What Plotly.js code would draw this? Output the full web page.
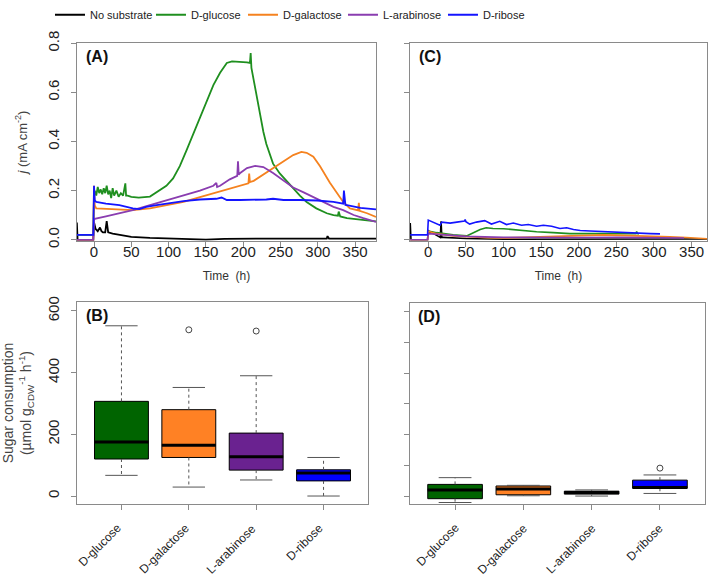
<!DOCTYPE html>
<html>
<head>
<meta charset="utf-8">
<script src="https://cdn.plot.ly/plotly-3.0.1.min.js"></script>
<style>html,body{margin:0;padding:0;background:#fff;}#chart{width:709px;height:579px;}</style>
</head>
<body>
<div id="chart"></div>
<script>
// ---------- Panel A: current density vs time (glucose-grown cells) ----------
const seriesNames = ['No substrate', 'D-glucose', 'D-galactose', 'L-arabinose', 'D-ribose'];

const tBlackA = [-23, -22.5, -22, -1, 0, 2, 5, 8, 10, 12, 15, 17, 19, 25, 35, 50, 75, 100, 125, 150, 175, 200, 250, 300, 312, 313, 315, 350, 378];
const jBlackA = [0.07, 0.02, 0.0, 0.0, 0.072, 0.045, 0.035, 0.05, 0.035, 0.03, 0.03, 0.076, 0.03, 0.025, 0.02, 0.012, 0.008, 0.005, 0.003, 0.001, 0.004, 0.005, 0.005, 0.005, 0.005, 0.015, 0.005, 0.005, 0.005];

const tGreenA = [-23, -1, 0, 1, 3, 5, 7, 9, 11, 13, 15, 17, 19, 21, 23, 25, 27, 30, 33, 36, 39, 42, 43, 45, 50, 60, 75, 88, 97, 106, 115, 124, 133, 142, 151, 160, 169, 178, 185, 195, 205, 209, 210, 211, 213, 216, 220, 224, 227, 231, 235, 240, 249, 258, 267, 276, 285, 298, 312, 321, 327, 328, 330, 339, 357, 378];
const jGreenA = [0.02, 0.02, 0.18, 0.2, 0.18, 0.215, 0.19, 0.205, 0.185, 0.21, 0.19, 0.22, 0.185, 0.2, 0.17, 0.21, 0.18, 0.2, 0.175, 0.19, 0.18, 0.23, 0.18, 0.18, 0.175, 0.172, 0.176, 0.2, 0.22, 0.25, 0.3, 0.364, 0.43, 0.496, 0.565, 0.63, 0.68, 0.72, 0.726, 0.725, 0.722, 0.72, 0.76, 0.70, 0.667, 0.61, 0.55, 0.49, 0.44, 0.39, 0.35, 0.31, 0.27, 0.24, 0.207, 0.18, 0.154, 0.128, 0.108, 0.10, 0.098, 0.115, 0.095, 0.088, 0.082, 0.075];

const tOrangeA = [-23, -1, 0, 1, 3, 30, 52, 75, 97, 120, 142, 164, 187, 205, 207, 208, 209, 214, 227, 240, 254, 267, 278, 285, 294, 303, 316, 325, 334, 343, 352, 354, 355, 356, 366, 378];
const jOrangeA = [0.0, 0.0, 0.22, 0.14, 0.128, 0.125, 0.121, 0.128, 0.141, 0.154, 0.174, 0.193, 0.213, 0.226, 0.23, 0.27, 0.235, 0.24, 0.266, 0.292, 0.318, 0.345, 0.358, 0.354, 0.338, 0.299, 0.233, 0.193, 0.154, 0.128, 0.121, 0.12, 0.15, 0.118, 0.108, 0.093];

const tPurpleA = [-23, -1, 0, 1, 16, 34, 52, 75, 97, 120, 142, 160, 164, 165, 169, 182, 191, 192, 193, 194, 196, 205, 216, 227, 240, 254, 267, 281, 294, 307, 321, 334, 348, 361, 378];
const jPurpleA = [0.0, 0.0, 0.08, 0.085, 0.095, 0.108, 0.121, 0.141, 0.16, 0.18, 0.2, 0.22, 0.232, 0.215, 0.22, 0.246, 0.259, 0.26, 0.32, 0.265, 0.272, 0.292, 0.301, 0.296, 0.272, 0.24, 0.213, 0.193, 0.174, 0.154, 0.134, 0.121, 0.101, 0.088, 0.073];

const tBlueA = [-23, -1, 0, 1, 3, 16, 34, 52, 61, 70, 84, 97, 120, 142, 164, 171, 178, 196, 214, 231, 240, 254, 276, 299, 321, 334, 335, 336, 337, 339, 357, 378];
const jBlueA = [0.02, 0.02, 0.22, 0.16, 0.154, 0.147, 0.141, 0.128, 0.125, 0.134, 0.141, 0.147, 0.157, 0.164, 0.167, 0.172, 0.162, 0.162, 0.162, 0.164, 0.167, 0.162, 0.162, 0.16, 0.154, 0.147, 0.2, 0.145, 0.142, 0.141, 0.13, 0.124];

// ---------- Panel C: current density vs time (other condition) ----------
const tBlackC = [-24, -23.5, -23, -1, 0, 1, 5, 10, 16, 17, 18, 20, 50, 100, 200, 300, 372];
const jBlackC = [0.068, 0.02, 0.0, 0.0, 0.04, 0.03, 0.03, 0.02, 0.01, 0.075, 0.01, 0.01, 0.005, 0.002, 0.003, 0.004, 0.003];

const tGreenC = [0, 11, 33, 51, 60, 69, 77, 86, 100, 122, 144, 166, 188, 210, 233, 255, 276, 277, 278, 280];
const jGreenC = [0.036, 0.029, 0.02, 0.016, 0.029, 0.042, 0.049, 0.046, 0.045, 0.038, 0.033, 0.029, 0.025, 0.025, 0.025, 0.024, 0.025, 0.034, 0.025, 0.024];

const tOrangeC = [-24, -1, 0, 11, 33, 55, 78, 100, 122, 144, 166, 188, 210, 233, 255, 277, 299, 321, 343, 365, 372];
const jOrangeC = [0.0, 0.0, 0.035, 0.025, 0.016, 0.012, 0.008, 0.007, 0.009, 0.012, 0.014, 0.016, 0.018, 0.02, 0.018, 0.017, 0.014, 0.012, 0.009, 0.005, 0.004];

const tPurpleC = [-24, -1, 0, 20, 50, 100, 150, 200, 250, 300, 340];
const jPurpleC = [0.0, 0.0, 0.025, 0.02, 0.014, 0.01, 0.008, 0.009, 0.01, 0.009, 0.007];

const tBlueC = [-24, -1, 0, 4, 11, 15.5, 18, 29, 38, 48, 49, 50, 55, 64, 75, 84, 95, 104, 113, 124, 133, 144, 153, 164, 175, 184, 193, 202, 215, 233, 241, 259, 277, 295, 308];
const jBlueC = [0.02, 0.02, 0.08, 0.075, 0.064, 0.059, 0.072, 0.068, 0.072, 0.076, 0.082, 0.074, 0.064, 0.072, 0.078, 0.064, 0.075, 0.062, 0.068, 0.059, 0.062, 0.055, 0.059, 0.055, 0.046, 0.049, 0.042, 0.038, 0.036, 0.033, 0.034, 0.029, 0.026, 0.025, 0.024];

const timeTicks = [0, 50, 100, 150, 200, 250, 300, 350];
const jTicks = [0.0, 0.2, 0.4, 0.6, 0.8];
const jTickText = ['0.0', '0.2', '0.4', '0.6', '0.8'];

// ---------- Panels B and D: sugar consumption box plots ----------
const categories = ['D-glucose', 'D-galactose', 'L-arabinose', 'D-ribose'];

const B_lowerWhisker = [67, 29, 52, 0];
const B_q1 = [120, 125, 84, 49];
const B_median = [175, 165, 127, 75];
const B_q3 = [307, 280, 204, 85];
const B_upperWhisker = [552, 352, 390, 125];
const B_outlierSugar = ['D-galactose', 'L-arabinose'];
const B_outlierValue = [539, 535];

const D_lowerWhisker = [-21, 1, 0, 8.5];
const D_q1 = [-8.6, 4.2, 6.3, 25.4];
const D_median = [20, 23.3, 11.6, 28];
const D_q3 = [38, 32.8, 15.9, 51.9];
const D_upperWhisker = [60, 34.9, 20, 68.8];
const D_outlierSugar = ['D-ribose'];
const D_outlierValue = [91];

const rateTicks = [0, 200, 400, 600];
const rateMinorTicks = [0, 100, 200, 300, 400, 500, 600];

// ---------- styles ----------
const lineColors = ['#000000', '#1f8f1f', '#f5821f', '#8a3db0', '#1414ff'];
const boxColors = ['#006400', '#ff8124', '#6a2290', '#0000ff'];
const legendWidths = [56, 47, 55, 55, 50];
const FONT = 'Liberation Sans, Arial, sans-serif';
const axisColor = '#8a8a8a';

const traces = [];
const seriesA = [[tBlackA, jBlackA], [tGreenA, jGreenA], [tOrangeA, jOrangeA], [tPurpleA, jPurpleA], [tBlueA, jBlueA]];
const seriesC = [[tBlackC, jBlackC], [tGreenC, jGreenC], [tOrangeC, jOrangeC], [tPurpleC, jPurpleC], [tBlueC, jBlueC]];

seriesA.forEach((s, i) => {
  traces.push({type: 'scatter', mode: 'lines', x: s[0], y: s[1], name: seriesNames[i], legendwidth: legendWidths[i],
    legendgroup: seriesNames[i], line: {color: lineColors[i], width: 1.8}, xaxis: 'x', yaxis: 'y', hoverinfo: 'skip'});
});
seriesC.forEach((s, i) => {
  traces.push({type: 'scatter', mode: 'lines', x: s[0], y: s[1], name: seriesNames[i],
    legendgroup: seriesNames[i], showlegend: false, line: {color: lineColors[i], width: 1.6}, xaxis: 'x2', yaxis: 'y2', hoverinfo: 'skip'});
});

function addBoxPanel(st, xa, ya) {
  const halfBox = 0.4, halfCap = 0.24;
  categories.forEach((c, i) => {
    traces.push({type: 'box', x: [i], q1: [st.q1[i]], median: [st.median[i]], q3: [st.q3[i]],
      lowerfence: [st.q1[i]], upperfence: [st.q3[i]], width: 2 * halfBox, whiskerwidth: 0,
      fillcolor: boxColors[i], line: {color: '#000', width: 1}, showlegend: false,
      xaxis: xa, yaxis: ya, hoverinfo: 'skip', name: c});
  });
  const wx = [], wy = [], cx = [], cy = [], mx = [], my = [];
  categories.forEach((c, i) => {
    wx.push(i, i, null, i, i, null);
    wy.push(st.q3[i], st.upper[i], null, st.q1[i], st.lower[i], null);
    cx.push(i - halfCap, i + halfCap, null, i - halfCap, i + halfCap, null);
    cy.push(st.upper[i], st.upper[i], null, st.lower[i], st.lower[i], null);
    mx.push(i - halfBox, i + halfBox, null);
    my.push(st.median[i], st.median[i], null);
  });
  traces.push({type: 'scatter', mode: 'lines', x: wx, y: wy, line: {color: '#555', width: 1, dash: '3px,3px'},
    showlegend: false, xaxis: xa, yaxis: ya, hoverinfo: 'skip', connectgaps: false});
  traces.push({type: 'scatter', mode: 'lines', x: cx, y: cy, line: {color: '#555', width: 1},
    showlegend: false, xaxis: xa, yaxis: ya, hoverinfo: 'skip', connectgaps: false});
  traces.push({type: 'scatter', mode: 'lines', x: mx, y: my, line: {color: '#000', width: 3},
    showlegend: false, xaxis: xa, yaxis: ya, hoverinfo: 'skip', connectgaps: false});
  traces.push({type: 'scatter', mode: 'markers', x: st.outSugar.map(s => categories.indexOf(s)), y: st.outVal,
    marker: {symbol: 'circle-open', size: 6, color: '#444', line: {width: 1}},
    showlegend: false, xaxis: xa, yaxis: ya, hoverinfo: 'skip'});
}
addBoxPanel({lower: B_lowerWhisker, q1: B_q1, median: B_median, q3: B_q3, upper: B_upperWhisker,
  outSugar: B_outlierSugar, outVal: B_outlierValue}, 'x3', 'y3');
addBoxPanel({lower: D_lowerWhisker, q1: D_q1, median: D_median, q3: D_q3, upper: D_upperWhisker,
  outSugar: D_outlierSugar, outVal: D_outlierValue}, 'x4', 'y4');

const W = 709, H = 579;
const px = (a, b) => [a / W, b / W];
const py = (top, bottom) => [1 - bottom / H, 1 - top / H];

const baseAxis = {showline: true, mirror: true, linecolor: axisColor, linewidth: 1, ticks: 'outside',
  ticklen: 5, tickcolor: axisColor, showgrid: false, zeroline: false, automargin: false,
  tickfont: {family: FONT, size: 15, color: '#222'}};

const catIdx = categories.map((c, i) => i);

// category labels under the box plots, slanted at 45 degrees (end of text at the tick)
const catLabels = [];
[['x3', 'y3', 4, -16], ['x4', 'y4', 8, -16]].forEach(([xa, ya, dx, dy]) => {
  categories.forEach((c, i) => {
    catLabels.push({text: c, xref: xa, yref: ya + ' domain', x: i, y: 0, xanchor: 'right', yanchor: 'top',
      xshift: dx, yshift: dy, textangle: -45, borderpad: 0, showarrow: false, font: {family: FONT, size: 12, color: '#222'}});
  });
});

const layout = {
  width: W, height: H, margin: {l: 0, r: 0, t: 0, b: 0},
  paper_bgcolor: '#fff', plot_bgcolor: '#fff',
  font: {family: FONT, color: '#222'},
  showlegend: true,
  legend: {orientation: 'h', x: 0.0705, xanchor: 'left', y: 1.0225, yanchor: 'top',
    font: {family: FONT, size: 11, color: '#222'}, itemwidth: 30, bgcolor: 'rgba(0,0,0,0)', traceorder: 'normal'},
  xaxis: Object.assign({}, baseAxis, {domain: px(77, 376), anchor: 'y', range: [-22.8, 378], tickvals: timeTicks,
    ticklabelstandoff: -8, title: {text: 'Time  (h)', font: {size: 12, color: '#333'}, standoff: 12}}),
  yaxis: Object.assign({}, baseAxis, {domain: py(31, 233), anchor: 'x', range: [-0.004, 0.8], tickvals: jTicks,
    ticktext: jTickText, tickangle: -90, ticklabelstandoff: 6,
    title: {text: '<i>j</i> (mA cm<sup>-2</sup>)', font: {size: 13, color: '#444'}, standoff: 14}}),
  xaxis2: Object.assign({}, baseAxis, {domain: px(410, 707), anchor: 'y2', range: [-24.3, 370.5], tickvals: timeTicks,
    ticklabelstandoff: -8, title: {text: 'Time  (h)', font: {size: 12, color: '#333'}, standoff: 12}}),
  yaxis2: Object.assign({}, baseAxis, {domain: py(31, 233), anchor: 'x2', range: [-0.004, 0.8], tickvals: jTicks,
    showticklabels: false}),
  xaxis3: Object.assign({}, baseAxis, {domain: px(77, 368), anchor: 'y3', range: [-0.66, 3.66], tickmode: 'array',
    tickvals: catIdx, showticklabels: false}),
  yaxis3: Object.assign({}, baseAxis, {domain: py(296, 502), anchor: 'x3', range: [-25, 628], tickvals: rateTicks,
    tickangle: -90, ticklabelstandoff: 6,
    title: {text: 'Sugar consumption<br>(µmol g<sub>CDW</sub><sup>-1</sup> h<sup>-1</sup>)', font: {size: 14, color: '#444'}, standoff: 13}}),
  xaxis4: Object.assign({}, baseAxis, {domain: px(410, 705), anchor: 'y4', range: [-0.66, 3.66], tickmode: 'array',
    tickvals: catIdx, showticklabels: false}),
  yaxis4: Object.assign({}, baseAxis, {domain: py(297, 502), anchor: 'x4', range: [-25, 628], tickvals: rateMinorTicks,
    showticklabels: false}),
  annotations: [
    {text: '<b>(A)</b>', xref: 'x domain', yref: 'y domain', x: 0.022, y: 0.985, xanchor: 'left', yanchor: 'top', showarrow: false, font: {size: 16, color: '#111'}},
    {text: '<b>(C)</b>', xref: 'x2 domain', yref: 'y2 domain', x: 0.022, y: 0.985, xanchor: 'left', yanchor: 'top', showarrow: false, font: {size: 16, color: '#111'}},
    {text: '<b>(B)</b>', xref: 'x3 domain', yref: 'y3 domain', x: 0.025, y: 0.985, xanchor: 'left', yanchor: 'top', showarrow: false, font: {size: 16, color: '#111'}},
    {text: '<b>(D)</b>', xref: 'x4 domain', yref: 'y4 domain', x: 0.022, y: 0.985, xanchor: 'left', yanchor: 'top', showarrow: false, font: {size: 16, color: '#111'}}
  ].concat(catLabels)
};

Plotly.newPlot('chart', traces, layout, {displayModeBar: false});
</script>
</body>
</html>
